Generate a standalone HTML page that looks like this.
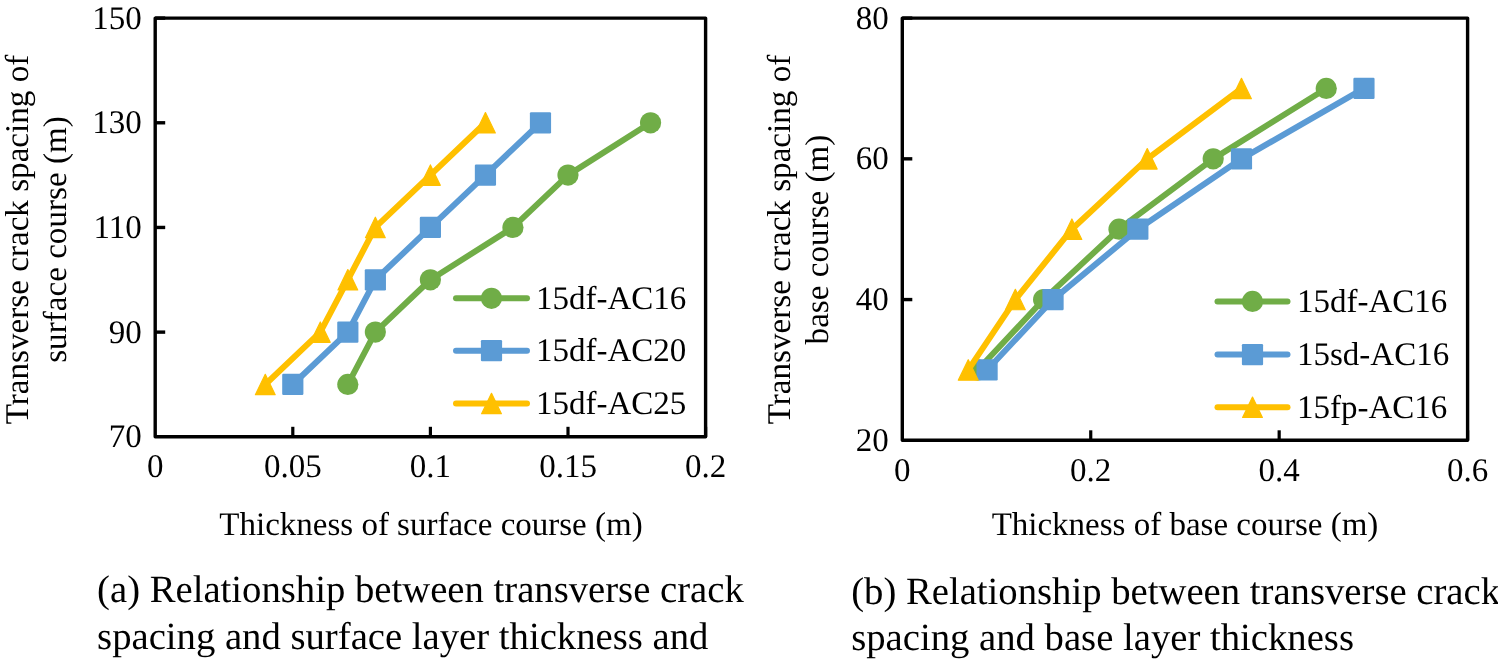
<!DOCTYPE html>
<html><head><meta charset="utf-8"><style>
html,body{margin:0;padding:0;background:#fff;}
body{width:1498px;height:662px;overflow:hidden;}
svg{display:block;font-family:"Liberation Serif",serif;text-rendering:geometricPrecision;will-change:transform;}
text{fill:#000;}
</style></head><body>
<svg width="1498" height="662" viewBox="0 0 1498 662">
<rect width="1498" height="662" fill="#fff"/>
<path d="M155.20 18.10H705.60V436.80H155.20Z" fill="none" stroke="#000" stroke-width="3.4" stroke-linejoin="round"/><line x1="292.80" y1="436.80" x2="292.80" y2="426.80" stroke="#000" stroke-width="3.2"/><line x1="430.40" y1="436.80" x2="430.40" y2="426.80" stroke="#000" stroke-width="3.2"/><line x1="568.00" y1="436.80" x2="568.00" y2="426.80" stroke="#000" stroke-width="3.2"/><line x1="705.60" y1="436.80" x2="705.60" y2="426.80" stroke="#000" stroke-width="3.2"/><line x1="155.20" y1="332.12" x2="165.20" y2="332.12" stroke="#000" stroke-width="3.4"/><line x1="155.20" y1="227.45" x2="165.20" y2="227.45" stroke="#000" stroke-width="3.4"/><line x1="155.20" y1="122.78" x2="165.20" y2="122.78" stroke="#000" stroke-width="3.4"/><line x1="155.20" y1="18.10" x2="165.20" y2="18.10" stroke="#000" stroke-width="3.4"/><text x="155.20" y="477.30" text-anchor="middle" font-size="33">0</text><text x="292.80" y="477.30" text-anchor="middle" font-size="33">0.05</text><text x="430.40" y="477.30" text-anchor="middle" font-size="33">0.1</text><text x="568.00" y="477.30" text-anchor="middle" font-size="33">0.15</text><text x="705.60" y="477.30" text-anchor="middle" font-size="33">0.2</text><text x="141.70" y="447.30" text-anchor="end" font-size="33">70</text><text x="141.70" y="342.62" text-anchor="end" font-size="33">90</text><text x="141.70" y="237.95" text-anchor="end" font-size="33">110</text><text x="141.70" y="133.28" text-anchor="end" font-size="33">130</text><text x="141.70" y="28.60" text-anchor="end" font-size="33">150</text>
<path d="M902.30 18.10H1467.60V440.30H902.30Z" fill="none" stroke="#000" stroke-width="3.4" stroke-linejoin="round"/><line x1="1090.73" y1="440.30" x2="1090.73" y2="430.30" stroke="#000" stroke-width="3.2"/><line x1="1279.17" y1="440.30" x2="1279.17" y2="430.30" stroke="#000" stroke-width="3.2"/><line x1="1467.60" y1="440.30" x2="1467.60" y2="430.30" stroke="#000" stroke-width="3.2"/><line x1="902.30" y1="299.57" x2="912.30" y2="299.57" stroke="#000" stroke-width="3.4"/><line x1="902.30" y1="158.83" x2="912.30" y2="158.83" stroke="#000" stroke-width="3.4"/><line x1="902.30" y1="18.10" x2="912.30" y2="18.10" stroke="#000" stroke-width="3.4"/><text x="902.30" y="480.80" text-anchor="middle" font-size="33">0</text><text x="1090.73" y="480.80" text-anchor="middle" font-size="33">0.2</text><text x="1279.17" y="480.80" text-anchor="middle" font-size="33">0.4</text><text x="1467.60" y="480.80" text-anchor="middle" font-size="33">0.6</text><text x="888.80" y="450.80" text-anchor="end" font-size="33">20</text><text x="888.80" y="310.07" text-anchor="end" font-size="33">40</text><text x="888.80" y="169.33" text-anchor="end" font-size="33">60</text><text x="888.80" y="28.60" text-anchor="end" font-size="33">80</text>
<polyline points="347.84,384.46 375.36,332.12 430.40,279.79 512.96,227.45 568.00,175.11 650.56,122.78" fill="none" stroke="#70AD47" stroke-width="6.0" stroke-linejoin="round" stroke-linecap="round"/><circle cx="347.84" cy="384.46" r="10.6" fill="#70AD47"/><circle cx="375.36" cy="332.12" r="10.6" fill="#70AD47"/><circle cx="430.40" cy="279.79" r="10.6" fill="#70AD47"/><circle cx="512.96" cy="227.45" r="10.6" fill="#70AD47"/><circle cx="568.00" cy="175.11" r="10.6" fill="#70AD47"/><circle cx="650.56" cy="122.78" r="10.6" fill="#70AD47"/>
<polyline points="292.80,384.46 347.84,332.12 375.36,279.79 430.40,227.45 485.44,175.11 540.48,122.78" fill="none" stroke="#5B9BD5" stroke-width="6.0" stroke-linejoin="round" stroke-linecap="round"/><rect x="282.20" y="373.86" width="21.2" height="21.2" rx="1.2" fill="#5B9BD5"/><rect x="337.24" y="321.52" width="21.2" height="21.2" rx="1.2" fill="#5B9BD5"/><rect x="364.76" y="269.19" width="21.2" height="21.2" rx="1.2" fill="#5B9BD5"/><rect x="419.80" y="216.85" width="21.2" height="21.2" rx="1.2" fill="#5B9BD5"/><rect x="474.84" y="164.51" width="21.2" height="21.2" rx="1.2" fill="#5B9BD5"/><rect x="529.88" y="112.18" width="21.2" height="21.2" rx="1.2" fill="#5B9BD5"/>
<polyline points="265.28,384.46 320.32,332.12 347.84,279.79 375.36,227.45 430.40,175.11 485.44,122.78" fill="none" stroke="#FFC000" stroke-width="6.0" stroke-linejoin="round" stroke-linecap="round"/><path d="M265.28 374.26L275.18 394.66L255.38 394.66Z" fill="#FFC000" stroke="#FFC000" stroke-width="1.2" stroke-linejoin="round"/><path d="M320.32 321.93L330.22 342.32L310.42 342.32Z" fill="#FFC000" stroke="#FFC000" stroke-width="1.2" stroke-linejoin="round"/><path d="M347.84 269.59L357.74 289.99L337.94 289.99Z" fill="#FFC000" stroke="#FFC000" stroke-width="1.2" stroke-linejoin="round"/><path d="M375.36 217.25L385.26 237.65L365.46 237.65Z" fill="#FFC000" stroke="#FFC000" stroke-width="1.2" stroke-linejoin="round"/><path d="M430.40 164.91L440.30 185.31L420.50 185.31Z" fill="#FFC000" stroke="#FFC000" stroke-width="1.2" stroke-linejoin="round"/><path d="M485.44 112.58L495.34 132.98L475.54 132.98Z" fill="#FFC000" stroke="#FFC000" stroke-width="1.2" stroke-linejoin="round"/>
<polyline points="977.67,369.93 1043.62,299.57 1119.00,229.20 1213.21,158.83 1326.27,88.47" fill="none" stroke="#70AD47" stroke-width="6.0" stroke-linejoin="round" stroke-linecap="round"/><circle cx="977.67" cy="369.93" r="10.6" fill="#70AD47"/><circle cx="1043.62" cy="299.57" r="10.6" fill="#70AD47"/><circle cx="1119.00" cy="229.20" r="10.6" fill="#70AD47"/><circle cx="1213.21" cy="158.83" r="10.6" fill="#70AD47"/><circle cx="1326.27" cy="88.47" r="10.6" fill="#70AD47"/>
<polyline points="987.09,369.93 1053.05,299.57 1137.84,229.20 1241.48,158.83 1363.96,88.47" fill="none" stroke="#5B9BD5" stroke-width="6.0" stroke-linejoin="round" stroke-linecap="round"/><rect x="976.49" y="359.33" width="21.2" height="21.2" rx="1.2" fill="#5B9BD5"/><rect x="1042.45" y="288.97" width="21.2" height="21.2" rx="1.2" fill="#5B9BD5"/><rect x="1127.24" y="218.60" width="21.2" height="21.2" rx="1.2" fill="#5B9BD5"/><rect x="1230.88" y="148.23" width="21.2" height="21.2" rx="1.2" fill="#5B9BD5"/><rect x="1353.36" y="77.87" width="21.2" height="21.2" rx="1.2" fill="#5B9BD5"/>
<polyline points="968.25,369.93 1015.36,299.57 1071.89,229.20 1147.26,158.83 1241.48,88.47" fill="none" stroke="#FFC000" stroke-width="6.0" stroke-linejoin="round" stroke-linecap="round"/><path d="M968.25 359.73L978.15 380.13L958.35 380.13Z" fill="#FFC000" stroke="#FFC000" stroke-width="1.2" stroke-linejoin="round"/><path d="M1015.36 289.37L1025.26 309.77L1005.46 309.77Z" fill="#FFC000" stroke="#FFC000" stroke-width="1.2" stroke-linejoin="round"/><path d="M1071.89 219.00L1081.79 239.40L1061.99 239.40Z" fill="#FFC000" stroke="#FFC000" stroke-width="1.2" stroke-linejoin="round"/><path d="M1147.26 148.63L1157.16 169.03L1137.36 169.03Z" fill="#FFC000" stroke="#FFC000" stroke-width="1.2" stroke-linejoin="round"/><path d="M1241.48 78.27L1251.38 98.67L1231.58 98.67Z" fill="#FFC000" stroke="#FFC000" stroke-width="1.2" stroke-linejoin="round"/>
<line x1="456" y1="298.3" x2="527" y2="298.3" stroke="#70AD47" stroke-width="6.0" stroke-linecap="round"/><circle cx="491.50" cy="298.30" r="10.6" fill="#70AD47"/><text x="536" y="308.8" font-size="33">15df-AC16</text>
<line x1="456" y1="350.7" x2="527" y2="350.7" stroke="#5B9BD5" stroke-width="6.0" stroke-linecap="round"/><rect x="480.90" y="340.10" width="21.2" height="21.2" rx="1.2" fill="#5B9BD5"/><text x="536" y="361.2" font-size="33">15df-AC20</text>
<line x1="456" y1="403.5" x2="527" y2="403.5" stroke="#FFC000" stroke-width="6.0" stroke-linecap="round"/><path d="M491.50 393.30L501.40 413.70L481.60 413.70Z" fill="#FFC000" stroke="#FFC000" stroke-width="1.2" stroke-linejoin="round"/><text x="536" y="414.0" font-size="33">15df-AC25</text>
<line x1="1217.5" y1="301.4" x2="1287.5" y2="301.4" stroke="#70AD47" stroke-width="6.0" stroke-linecap="round"/><circle cx="1252.50" cy="301.40" r="10.6" fill="#70AD47"/><text x="1297" y="311.9" font-size="33">15df-AC16</text>
<line x1="1217.5" y1="354.6" x2="1287.5" y2="354.6" stroke="#5B9BD5" stroke-width="6.0" stroke-linecap="round"/><rect x="1241.90" y="344.00" width="21.2" height="21.2" rx="1.2" fill="#5B9BD5"/><text x="1297" y="365.1" font-size="33">15sd-AC16</text>
<line x1="1217.5" y1="407.3" x2="1287.5" y2="407.3" stroke="#FFC000" stroke-width="6.0" stroke-linecap="round"/><path d="M1252.50 397.10L1262.40 417.50L1242.60 417.50Z" fill="#FFC000" stroke="#FFC000" stroke-width="1.2" stroke-linejoin="round"/><text x="1297" y="417.8" font-size="33">15fp-AC16</text>
<text x="431" y="535.2" text-anchor="middle" font-size="33">Thickness of surface course (m)</text>
<text x="1185" y="535.2" text-anchor="middle" font-size="33">Thickness of base course (m)</text>
<g transform="translate(28,239.5) rotate(-90)"><text x="0" y="0" text-anchor="middle" font-size="33.15">Transverse crack spacing of</text><text x="0" y="37.8" text-anchor="middle" font-size="33.15">surface course (m)</text></g>
<g transform="translate(790,239.5) rotate(-90)"><text x="0" y="0" text-anchor="middle" font-size="33.15">Transverse crack spacing of</text><text x="0" y="37.8" text-anchor="middle" font-size="33.15">base course (m)</text></g>
<text x="97.1" y="601.9" font-size="38.7">(a) Relationship between transverse crack</text>
<text x="97.1" y="648.5" font-size="38.7">spacing and surface layer thickness and</text>
<text x="851.2" y="603.9" font-size="38.7">(b) Relationship between transverse crack</text>
<text x="851.2" y="650" font-size="38.7">spacing and base layer thickness</text>
</svg>
</body></html>
